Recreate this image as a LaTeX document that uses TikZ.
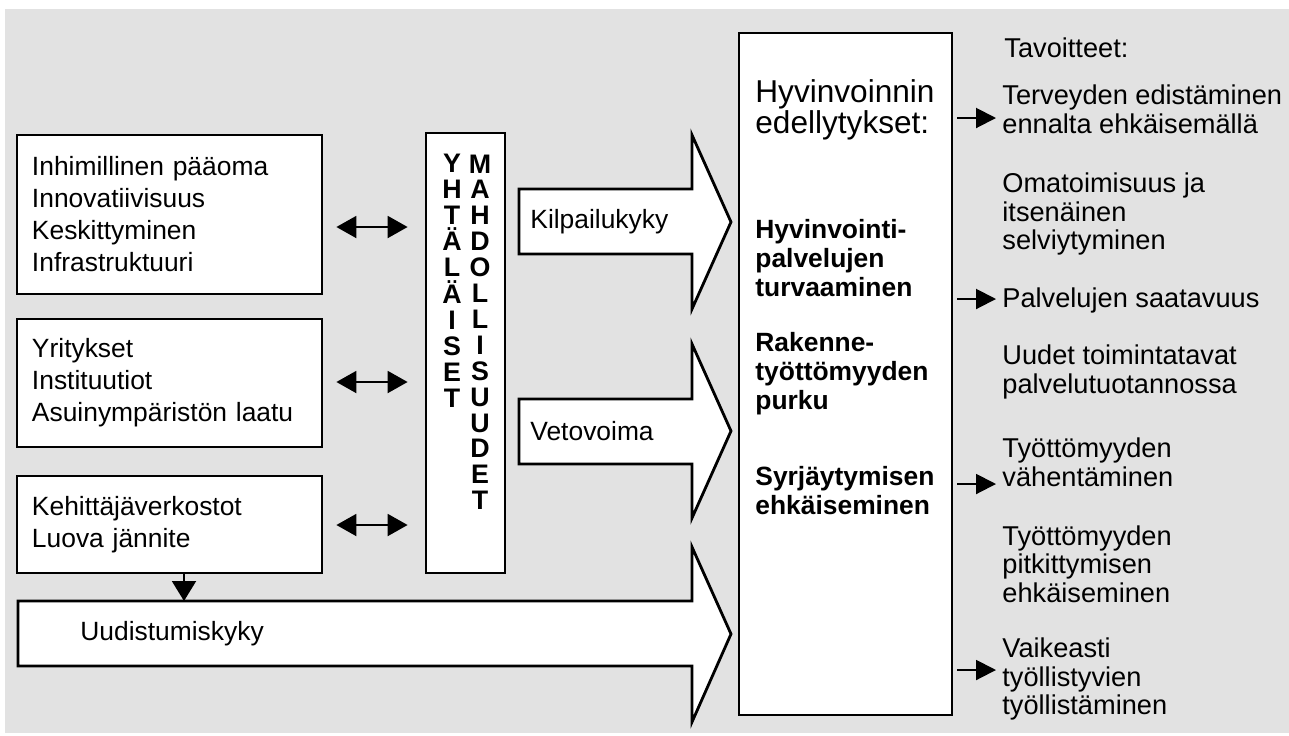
\documentclass[tikz,border=0pt]{standalone}
\usepackage{fontspec}
\setmainfont{Liberation Sans}
\usetikzlibrary{arrows.meta}
\definecolor{panelgray}{RGB}{226,226,226}

\begin{document}
\begin{tikzpicture}[x=0.5pt, y=-0.5pt,
    box/.style={draw, line width=1.4pt, fill=white, inner sep=0pt},
    leftbox/.style={box, align=left, text width=137.5pt, inner xsep=7.5pt,
        font=\fontsize{13.2}{16}\selectfont},
    fat/.style={draw, line width=1.4pt, fill=white, line join=miter},
    txt/.style={anchor=west, inner sep=0pt, align=left, font=\fontsize{13.2}{14.2}\selectfont},
    goaltxt/.style={txt, font=\fontsize{13.6}{14.3}\selectfont},
    bold/.style={txt, font=\bfseries\fontsize{13.2}{14.5}\selectfont},
    letter/.style={anchor=base, inner sep=0pt, font=\bfseries\fontsize{13.4}{14}\selectfont},
    dbl/.style={line width=1pt, >={Triangle[length=10pt,width=11pt]}, <->,
        shorten <=6.5pt, shorten >=8.5pt},
    goal/.style={line width=1pt, -{Triangle[length=10pt,width=10pt]},
        shorten <=2pt, shorten >=3pt},
    down/.style={line width=1pt, -{Triangle[length=10pt,width=12pt]}}]

    \useasboundingbox (0,0) rectangle (1289,735);
    \fill[panelgray] (5,9) rectangle (1289,733);

    % left column
    \node[leftbox, minimum height=79.5pt] (b1) at (169.5,214.5)
        {Inhimillinen pääoma\\Innovatiivisuus\\Keskittyminen\\Infrastruktuuri};
    \node[leftbox, minimum height=64pt] (b2) at (169.5,383)
        {Yritykset\\Instituutiot\\Asuinympäristön laatu};
    \node[leftbox, minimum height=48.5pt] (b3) at (169.5,524.5)
        {Kehittäjäverkostot\\Luova jännite};

    % middle column
    \node[box, minimum width=39.5pt, minimum height=220pt] (yh) at (465.5,353) {};
    \foreach \ch [count=\i from 0] in {Y,H,T,Ä,L,Ä,I,S,E,T}
        \node[letter] (ya\i) at (452,{172+26.2*\i}) {\ch};
    \foreach \ch [count=\i from 0] in {M,A,H,D,O,L,L,I,S,U,U,D,E,T}
        \node[letter] (ma\i) at (480,{173+25.9*\i}) {\ch};

    \foreach \b/\yy in {b1/227, b2/382, b3/525}
        \draw[dbl] (\b.east |- 0,\yy) -- (yh.west |- 0,\yy);

    % fat arrows
    \draw[fat] (519,189) -- (692,189) -- (692,135) -- (731,222) -- (692,309)
        -- (692,254) -- (519,254) -- cycle;
    \node[txt] (kilp) at (530,222) {Kilpailukyky};
    \draw[fat] (519,399) -- (692,399) -- (692,344) -- (731,431) -- (692,518)
        -- (692,464) -- (519,464) -- cycle;
    \node[txt] (veto) at (530,431) {Vetovoima};
    \draw[fat] (18,601) -- (692,601) -- (692,547) -- (731,634) -- (692,722)
        -- (692,666) -- (18,666) -- cycle;
    \node[txt] (uudi) at (80,634) {Uudistumiskyky};

    \coordinate (utop) at (184,601);
    \draw[down] (b3.south -| utop) -- (utop);

    % edellytykset
    \node[box, minimum width=106.5pt, minimum height=341pt] (edel) at (845.5,374) {};
    \node[txt, font=\fontsize{15.8}{15.8}\selectfont] (h0) at (755,110)
        {Hyvinvoinnin\\edellytykset:};
    \node[bold] (h1) at (755,258) {Hyvinvointi-\\palvelujen\\turvaaminen};
    \node[bold] (h2) at (755,374) {Rakenne-\\työttömyyden\\purku};
    \node[bold] (h3) at (755,491) {Syrjäytymisen\\ehkäiseminen};

    % tavoitteet
    \node[goaltxt] (t0) at (1004,48) {Tavoitteet:};
    \node[goaltxt] (t1) at (1002,109) {Terveyden edistäminen\\ennalta ehkäisemällä};
    \node[goaltxt] (t2) at (1002,214) {Omatoimisuus ja\\itsenäinen\\selviytyminen};
    \node[goaltxt] (t3) at (1002,300) {Palvelujen saatavuus};
    \node[goaltxt] (t4) at (1002,372) {Uudet toimintatavat\\palvelutuotannossa};
    \node[goaltxt] (t5) at (1002,462) {Työttömyyden\\vähentäminen};
    \node[goaltxt] (t6) at (1002,564) {Työttömyyden\\pitkittymisen\\ehkäiseminen};
    \node[goaltxt] (t7) at (1002,679) {Vaikeasti\\työllistyvien\\työllistäminen};

    \foreach \t/\yy in {t1/118, t3/299, t5/484, t7/670}
        \draw[goal] (edel.east |- 0,\yy) -- (\t.west |- 0,\yy);
\end{tikzpicture}
\end{document}
